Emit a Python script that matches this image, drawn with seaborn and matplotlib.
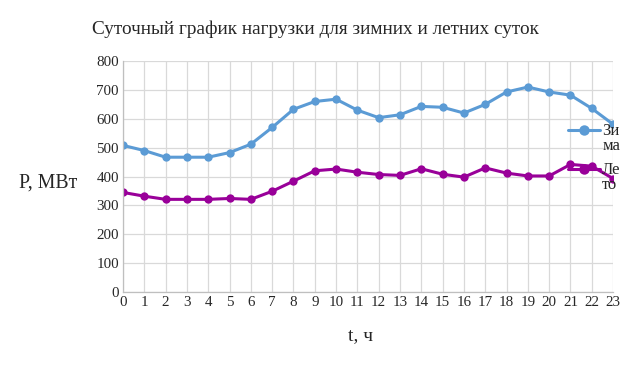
import pandas as pd
import seaborn as sns
import matplotlib.pyplot as plt
from matplotlib.legend_handler import HandlerLine2D

hours = list(range(24))
winter = [508, 490, 467, 467, 467, 483, 512, 570, 633, 660, 668, 630,
          604, 614, 643, 640, 620, 650, 693, 710, 693, 682, 636, 581]
summer = [345, 332, 321, 321, 321, 324, 321, 349, 384, 420, 426, 415,
          407, 404, 427, 408, 398, 430, 412, 402, 402, 442, 436, 393]
labels = ['Зи\nма', 'Ле\nто']
colors = ['#5B9BD5', '#990099']

sns.set_style('white')
plt.rcParams['font.family'] = ['Liberation Serif', 'DejaVu Serif']


class TopLine(HandlerLine2D):
    # legend handle sits on the first text line, like Excel does
    def __init__(self, dy, **kw):
        super().__init__(**kw)
        self.dy = dy

    def create_artists(self, legend, orig_handle, xdescent, ydescent,
                       width, height, fontsize, trans):
        arts = super().create_artists(legend, orig_handle, xdescent, ydescent,
                                      width, height, fontsize, trans)
        for a in arts:
            a.set_ydata([y + self.dy for y in a.get_ydata()])
        return arts


df = pd.DataFrame({'t': hours * 2,
                   'P': winter + summer,
                   'season': [labels[0]] * 24 + [labels[1]] * 24})

fig = plt.figure(figsize=(6.34, 3.68), dpi=100)
ax = fig.add_axes([0.194, 0.2065, 0.773, 0.6275])

sns.lineplot(data=df, x='t', y='P', hue='season', palette=colors,
             marker='o', markersize=6, markeredgewidth=0, linewidth=2.2,
             ax=ax, legend=False)

ax.set_xlim(0, 23)
ax.set_ylim(0, 800)
ax.set_xticks(hours)
ax.set_yticks(range(0, 801, 100))
ax.grid(True, color='#D9D9D9', linewidth=0.9)
ax.set_axisbelow(True)
for s in ['top', 'right']:
    ax.spines[s].set_visible(False)
for s in ['left', 'bottom']:
    ax.spines[s].set_color('#BFBFBF')
    ax.spines[s].set_linewidth(0.9)
ax.tick_params(axis='both', length=0, labelsize=10.8, pad=3)
ax.set_xlabel('')
ax.set_ylabel('')

fig.text(0.497, 0.92, 'Суточный график нагрузки для зимних и летних суток',
         ha='center', va='center', fontsize=13.9)
fig.text(0.030, 0.503, 'P, МВт', ha='left', va='center', fontsize=14.3)
fig.text(0.569, 0.088, 't, ч', ha='center', va='center', fontsize=14)

handles = [plt.Line2D([], [], color=c, marker='o', markersize=7.5,
                      markeredgewidth=0, linewidth=2.2) for c in colors]
leg = fig.legend(handles, labels, loc='upper left', bbox_to_anchor=(0.896, 0.666),
                 frameon=False, fontsize=12, handlelength=1.9, handletextpad=0.15,
                 labelspacing=0.45, borderaxespad=0, borderpad=0,
                 handler_map={plt.Line2D: TopLine(dy=6.5)})
for t in leg.get_texts():
    t.set_linespacing(0.95)

fig.savefig('out.png', dpi=100)
